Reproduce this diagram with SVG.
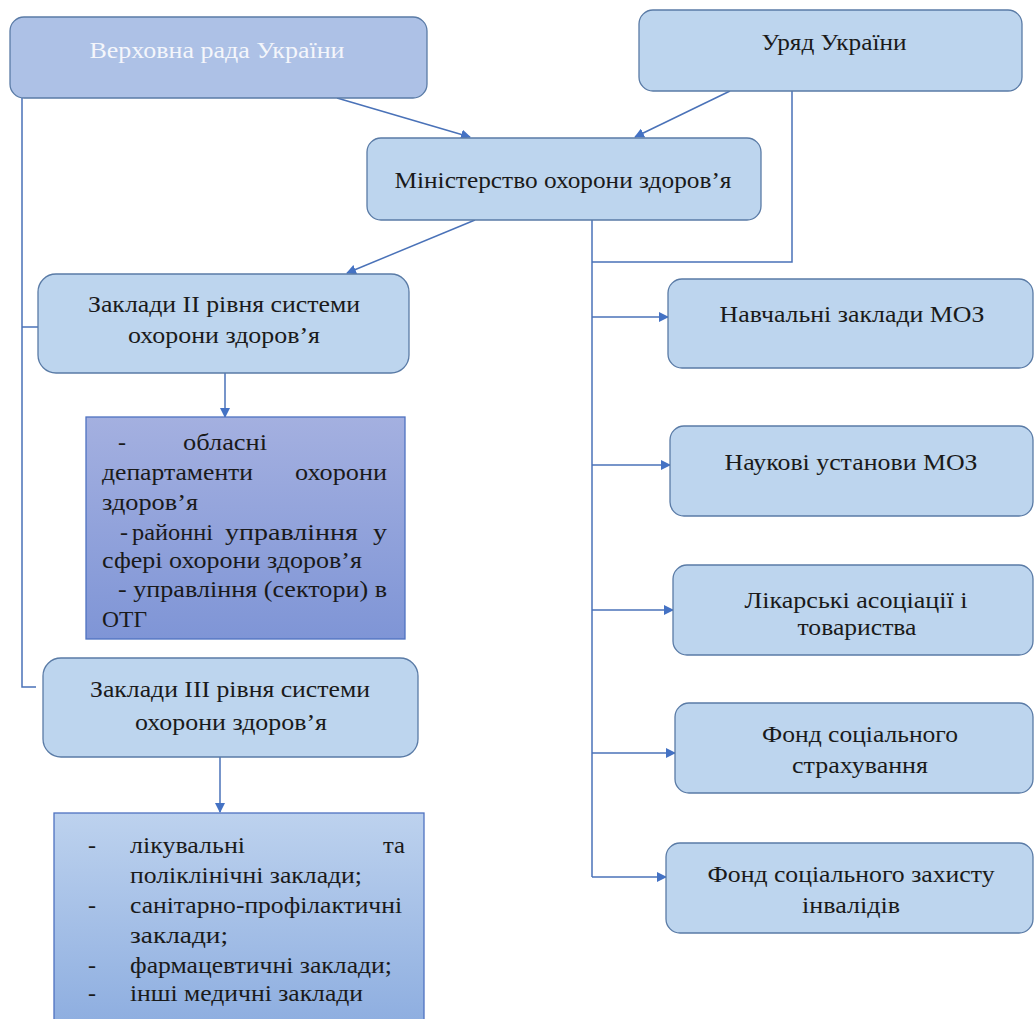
<svg xmlns="http://www.w3.org/2000/svg" width="1035" height="1019" viewBox="0 0 1035 1019">
<defs>
<marker id="ah" markerWidth="10" markerHeight="10" refX="9" refY="5" orient="auto" markerUnits="userSpaceOnUse">
<path d="M0,0 L10,5 L0,10 Z" fill="#4472c4"/>
</marker>
<linearGradient id="g1" x1="0" y1="0" x2="0" y2="1">
<stop offset="0" stop-color="#a4b0e0"/>
<stop offset="1" stop-color="#7f95d6"/>
</linearGradient>
<linearGradient id="g2" x1="0" y1="0" x2="0" y2="1">
<stop offset="0" stop-color="#bdd2ee"/>
<stop offset="1" stop-color="#8eaee0"/>
</linearGradient>
<style>
.box{fill:#bdd5ee;stroke:#5a7ba6;stroke-width:1.3}
text{font-family:"Liberation Serif","DejaVu Serif","Times New Roman",serif;font-size:24px;fill:#1a1a1a}
.c{text-anchor:middle}
.ln{stroke:#4a72b8;stroke-width:1.5;fill:none}
.ar{stroke:#4a72b8;stroke-width:1.5;fill:none;marker-end:url(#ah)}
</style>
</defs>
<rect width="1035" height="1019" fill="#ffffff"/>
<g id="connectors">
<line class="ar" x1="337" y1="98" x2="470" y2="137"/>
<line class="ar" x1="730" y1="91" x2="635" y2="137"/>
<line class="ar" x1="475" y1="220" x2="347" y2="273"/>
<line class="ar" x1="225" y1="373" x2="225" y2="417"/>
<line class="ar" x1="220" y1="757" x2="220" y2="812"/>
<polyline class="ln" points="22,98 22,687 36,687"/>
<line class="ln" x1="22" y1="327" x2="38" y2="327"/>
<line class="ln" x1="592" y1="220" x2="592" y2="877"/>
<polyline class="ln" points="792,91 792,262 592,262"/>
<line class="ar" x1="592" y1="317" x2="668" y2="317"/>
<line class="ar" x1="592" y1="465" x2="670" y2="465"/>
<line class="ar" x1="592" y1="610" x2="673" y2="610"/>
<line class="ar" x1="592" y1="753" x2="675" y2="753"/>
<line class="ar" x1="592" y1="877" x2="666" y2="877"/>
</g>
<g id="verkhovna">
<rect class="box" x="10" y="17" width="417" height="81" rx="14" style="fill:#adc1e6"/>
<text class="c" x="217" y="58" textLength="255" lengthAdjust="spacingAndGlyphs" style="fill:#f4f6fb">Верховна рада України</text>
</g>
<g id="uryad">
<rect class="box" x="639" y="10" width="383" height="81" rx="14"/>
<text class="c" x="834" y="50" textLength="145" lengthAdjust="spacingAndGlyphs">Уряд України</text>
</g>
<g id="moz">
<rect class="box" x="367" y="138" width="394" height="82" rx="14"/>
<text class="c" x="563" y="188" textLength="337" lengthAdjust="spacingAndGlyphs">Міністерство охорони здоров’я</text>
</g>
<g id="zaklady2">
<rect class="box" x="38" y="274" width="371" height="99" rx="18"/>
<text class="c" x="224" y="312" textLength="272" lengthAdjust="spacingAndGlyphs">Заклади ІІ рівня системи</text>
<text class="c" x="224" y="343" textLength="192" lengthAdjust="spacingAndGlyphs">охорони здоров’я</text>
</g>
<g id="list2">
<rect x="86" y="417" width="319" height="222" fill="url(#g1)" stroke="#4f72c0" stroke-width="1.3"/>
<text x="118" y="450">-</text>
<text x="183" y="450" textLength="84" lengthAdjust="spacingAndGlyphs">обласні</text>
<text x="102" y="480" textLength="151" lengthAdjust="spacingAndGlyphs">департаменти</text>
<text x="295" y="480" textLength="92" lengthAdjust="spacingAndGlyphs">охорони</text>
<text x="102" y="510" textLength="96" lengthAdjust="spacingAndGlyphs">здоров’я</text>
<text x="120" y="540">-</text>
<text x="132" y="540" textLength="81" lengthAdjust="spacingAndGlyphs">районні</text>
<text x="225" y="540" textLength="133" lengthAdjust="spacingAndGlyphs">управління</text>
<text x="373" y="540" textLength="14" lengthAdjust="spacingAndGlyphs">у</text>
<text x="102" y="568" textLength="260" lengthAdjust="spacingAndGlyphs">сфері охорони здоров’я</text>
<text x="118" y="597" textLength="269" lengthAdjust="spacingAndGlyphs">- управління (сектори) в</text>
<text x="102" y="627" textLength="45" lengthAdjust="spacingAndGlyphs">ОТГ</text>
</g>
<g id="zaklady3">
<rect class="box" x="43" y="658" width="375" height="99" rx="18"/>
<text class="c" x="230" y="697" textLength="280" lengthAdjust="spacingAndGlyphs">Заклади ІІІ рівня системи</text>
<text class="c" x="231" y="730" textLength="192" lengthAdjust="spacingAndGlyphs">охорони здоров’я</text>
</g>
<g id="list3">
<rect x="54" y="813" width="370" height="210" fill="url(#g2)" stroke="#4f72c0" stroke-width="1.3"/>
<text x="88" y="853">-</text>
<text x="130" y="853" textLength="115" lengthAdjust="spacingAndGlyphs">лікувальні</text>
<text x="383" y="853" textLength="22" lengthAdjust="spacingAndGlyphs">та</text>
<text x="130" y="883" textLength="232" lengthAdjust="spacingAndGlyphs">поліклінічні заклади;</text>
<text x="88" y="913">-</text>
<text x="130" y="913" textLength="272" lengthAdjust="spacingAndGlyphs">санітарно-профілактичні</text>
<text x="130" y="943" textLength="98" lengthAdjust="spacingAndGlyphs">заклади;</text>
<text x="88" y="973">-</text>
<text x="130" y="973" textLength="262" lengthAdjust="spacingAndGlyphs">фармацевтичні заклади;</text>
<text x="88" y="1001">-</text>
<text x="130" y="1001" textLength="233" lengthAdjust="spacingAndGlyphs">інші медичні заклади</text>
</g>
<g id="navchalni">
<rect class="box" x="668" y="279" width="365" height="89" rx="14"/>
<text class="c" x="852" y="322" textLength="265" lengthAdjust="spacingAndGlyphs">Навчальні заклади МОЗ</text>
</g>
<g id="naukovi">
<rect class="box" x="670" y="426" width="363" height="90" rx="14"/>
<text class="c" x="851" y="470" textLength="253" lengthAdjust="spacingAndGlyphs">Наукові установи МОЗ</text>
</g>
<g id="likarski">
<rect class="box" x="673" y="565" width="360" height="90" rx="14"/>
<text class="c" x="856" y="608" textLength="223" lengthAdjust="spacingAndGlyphs">Лікарські асоціації і</text>
<text class="c" x="857" y="635" textLength="119" lengthAdjust="spacingAndGlyphs">товариства</text>
</g>
<g id="fond1">
<rect class="box" x="675" y="703" width="358" height="90" rx="14"/>
<text class="c" x="860" y="742" textLength="196" lengthAdjust="spacingAndGlyphs">Фонд соціального</text>
<text class="c" x="860" y="773" textLength="136" lengthAdjust="spacingAndGlyphs">страхування</text>
</g>
<g id="fond2">
<rect class="box" x="666" y="843" width="367" height="90" rx="14"/>
<text class="c" x="851" y="882" textLength="287" lengthAdjust="spacingAndGlyphs">Фонд соціального захисту</text>
<text class="c" x="851" y="913" textLength="98" lengthAdjust="spacingAndGlyphs">інвалідів</text>
</g>
</svg>
